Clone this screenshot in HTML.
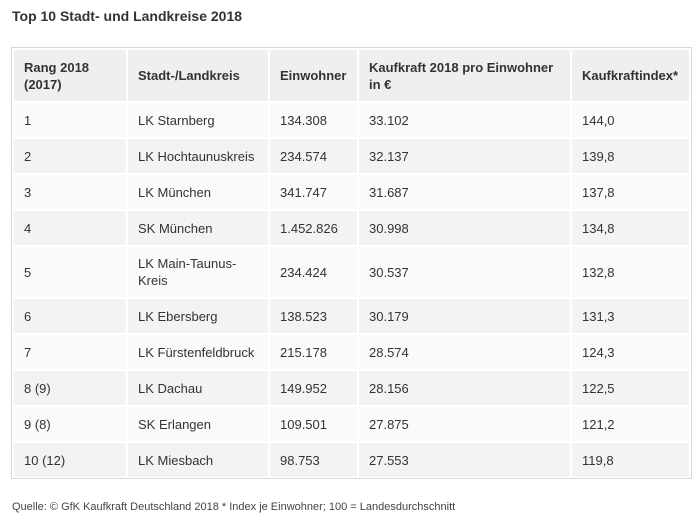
<!DOCTYPE html>
<html><head><meta charset="utf-8"><style>
body{margin:0;width:700px;height:526px;background:#fff;font-family:"Liberation Sans",Arial,sans-serif;color:#333;position:relative;overflow:hidden}
h1{position:absolute;left:12px;top:8px;margin:0;font-size:14px;font-weight:bold;color:#333}
#box{position:absolute;left:11px;top:47px;width:679px;height:430px;border:1px solid #d8d8d8;background:#fff}
table{position:absolute;left:0;top:0;width:679px;table-layout:fixed;border-collapse:separate;border-spacing:2px;font-size:13px}
td,th{padding:0 0 0 10px;text-align:left;vertical-align:middle;line-height:17px;box-sizing:border-box;overflow:hidden;white-space:nowrap}
th{background:#efefef;height:51px;font-weight:bold}
tr.o td{background:#fafafa}
tr.e td{background:#f3f3f3}
td{height:34px}
tr.tall td{height:50px}
#foot{position:absolute;left:12px;top:501px;font-size:11px;color:#444}
</style></head><body>
<h1>Top 10 Stadt- und Landkreise 2018</h1>
<div id="box">
<table>
<tr><th style="width:112px">Rang 2018<br>(2017)</th><th style="width:140px">Stadt-/Landkreis</th><th style="width:87px">Einwohner</th><th style="width:211px">Kaufkraft 2018 pro Einwohner<br>in €</th><th style="width:117px">Kaufkraftindex*</th></tr>
<tr class="o"><td>1</td><td>LK Starnberg</td><td>134.308</td><td>33.102</td><td>144,0</td></tr>
<tr class="e"><td>2</td><td>LK Hochtaunuskreis</td><td>234.574</td><td>32.137</td><td>139,8</td></tr>
<tr class="o"><td>3</td><td>LK München</td><td>341.747</td><td>31.687</td><td>137,8</td></tr>
<tr class="e"><td>4</td><td>SK München</td><td>1.452.826</td><td>30.998</td><td>134,8</td></tr>
<tr class="o tall"><td>5</td><td>LK Main-Taunus-<br>Kreis</td><td>234.424</td><td>30.537</td><td>132,8</td></tr>
<tr class="e"><td>6</td><td>LK Ebersberg</td><td>138.523</td><td>30.179</td><td>131,3</td></tr>
<tr class="o"><td>7</td><td>LK Fürstenfeldbruck</td><td>215.178</td><td>28.574</td><td>124,3</td></tr>
<tr class="e"><td>8 (9)</td><td>LK Dachau</td><td>149.952</td><td>28.156</td><td>122,5</td></tr>
<tr class="o"><td>9 (8)</td><td>SK Erlangen</td><td>109.501</td><td>27.875</td><td>121,2</td></tr>
<tr class="e"><td>10 (12)</td><td>LK Miesbach</td><td>98.753</td><td>27.553</td><td>119,8</td></tr>
</table>
</div>
<div id="foot">Quelle: © GfK Kaufkraft Deutschland 2018 * Index je Einwohner; 100 = Landesdurchschnitt</div>
</body></html>
